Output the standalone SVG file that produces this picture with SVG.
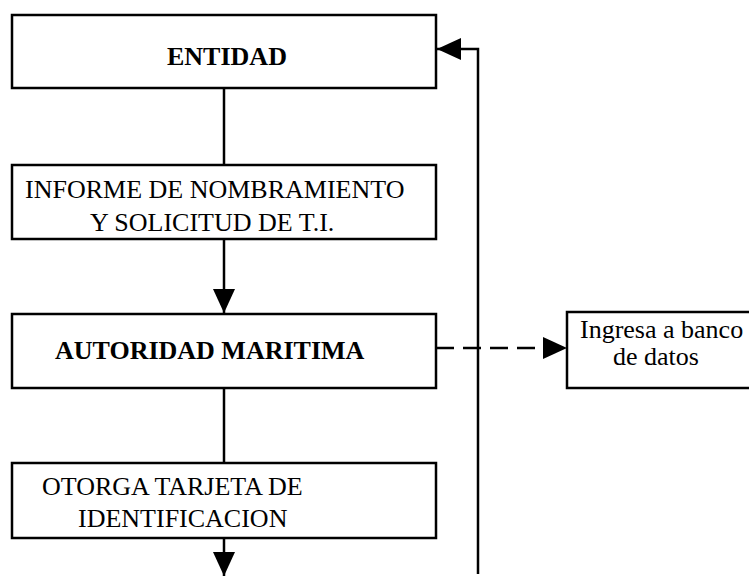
<svg xmlns="http://www.w3.org/2000/svg" width="749" height="576" viewBox="0 0 749 576">
<defs>
<style>
.box{fill:#fff;stroke:#000;stroke-width:2.5}
.t{font-family:"Liberation Serif","Times New Roman",serif;font-size:26px;fill:#000}
.b{font-weight:bold}
.ln{fill:none;stroke:#000;stroke-width:2.5}
.dash{stroke-dasharray:18,9}
</style>
<marker id="ah" markerWidth="24" markerHeight="22" refX="24" refY="11" orient="auto" markerUnits="userSpaceOnUse">
<path d="M0,0 L24,11 L0,22 Z" fill="#000"/>
</marker>
</defs>
<rect width="749" height="576" fill="#fff"/>
<g id="connectors">
<line class="ln" x1="224" y1="88" x2="224" y2="165"/>
<line class="ln" x1="224" y1="239" x2="224" y2="313" marker-end="url(#ah)"/>
<line class="ln" x1="224" y1="388" x2="224" y2="463"/>
<line class="ln" x1="224" y1="538" x2="224" y2="576" marker-end="url(#ah)"/>
<line class="ln dash" x1="436" y1="348" x2="567" y2="348" marker-end="url(#ah)"/>
<polyline class="ln" points="478,574 478,49 437,49" marker-end="url(#ah)"/>
</g>
<g id="entidad">
<rect class="box" x="12" y="15" width="424" height="73"/>
<text class="t b" x="167" y="65">ENTIDAD</text>
</g>
<g id="informe">
<rect class="box" x="12" y="165" width="424" height="74"/>
<text class="t" x="25" y="198">INFORME DE NOMBRAMIENTO</text>
<text class="t" x="90" y="231">Y SOLICITUD DE T.I.</text>
</g>
<g id="autoridad">
<rect class="box" x="12" y="314" width="424" height="74"/>
<text class="t b" x="55" y="359">AUTORIDAD MARITIMA</text>
</g>
<g id="banco">
<rect class="box" x="567" y="312" width="190" height="76"/>
<text class="t" x="580" y="338">Ingresa a banco</text>
<text class="t" x="613" y="365">de datos</text>
</g>
<g id="otorga">
<rect class="box" x="12" y="463" width="424" height="75"/>
<text class="t" x="42" y="495">OTORGA TARJETA DE</text>
<text class="t" x="78" y="527">IDENTIFICACION</text>
</g>
</svg>
